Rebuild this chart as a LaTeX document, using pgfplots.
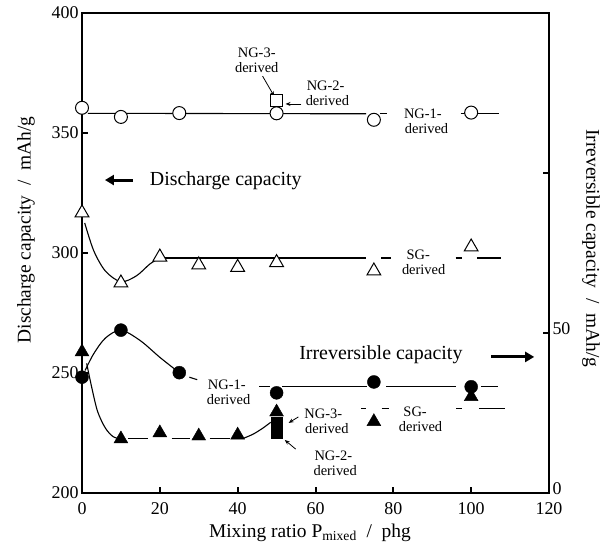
\documentclass[border=0pt]{standalone}
\usepackage{fontspec}
\setmainfont{Liberation Serif}
\usepackage{pgfplots}
\pgfplotsset{compat=1.18}
\usetikzlibrary{arrows.meta}

\pgfplotsset{
  base/.style={
    at={(0,0)}, anchor=south west,
    scale only axis, width=467bp, height=480bp,
    xmin=0, xmax=120, clip=false,
    tick align=inside, major tick length=6bp,
    every tick/.style={line width=2bp, black},
    tick label style={font=\fontsize{18}{21}\selectfont},
    label style={font=\fontsize{19.5}{23}\selectfont},
    /pgf/number format/assume math mode=true,
  },
  ln/.style={black, line width=1.1bp, no marks},
  opencirc/.style={only marks, mark=*, mark size=6.5bp, mark options={fill=white, draw=black, line width=1bp}},
  opentri/.style={only marks, mark=triangle*, mark size=8bp, mark options={fill=white, draw=black, line width=1bp}},
  opensq/.style={only marks, mark=square*, mark size=6bp, mark options={fill=white, draw=black, line width=1bp}},
  fillcirc/.style={only marks, mark=*, mark size=6.5bp, mark options={fill=black, draw=black}},
  filltri/.style={only marks, mark=triangle*, mark size=8bp, mark options={fill=black, draw=black}},
  fillsq/.style={only marks, mark=square*, mark size=5.5bp, mark options={fill=black, draw=black}},
}

\begin{document}
\begin{tikzpicture}
\path[use as bounding box] (-82bp,-56bp) rectangle (524bp,493bp);
% ---------------- left axis: discharge capacity ----------------
\begin{axis}[base,
  ymin=200, ymax=400,
  xtick={0,20,...,120}, ytick={200,250,...,400},
  xtick pos=left, ytick pos=left,
  xticklabel style={yshift=-6bp},
  axis line style={line width=2.6bp},
  xlabel={Mixing ratio P\textsubscript{mixed}\ \ /\ \ phg},
  ylabel={Discharge capacity\ \ /\ \ mAh/g},
  xlabel style={at={(axis description cs:0.488,-0.083)}, anchor=center},
  ylabel style={at={(axis description cs:-0.12,0.548)}, anchor=center},
]
% NG-1-derived (open circles) line
\addplot[ln] coordinates {(1.5,358.2) (73,358)};
\addplot[ln] coordinates {(76.5,358) (78.5,358)};
\addplot[ln] coordinates {(97.3,358) (98.5,358)};
\addplot[ln] coordinates {(101.5,358) (107.2,358)};
% SG-derived (open triangles) line
\addplot[ln, smooth] coordinates {(0.7,312.5) (3,301) (6,292.5) (10,288) (14,290.5) (17.5,295.5) (20,297.9)};
\addplot[ln] coordinates {(20,297.9) (73,297.9)};
\addplot[ln] coordinates {(76.9,297.9) (79.3,297.9)};
\addplot[ln] coordinates {(96,297.9) (97.6,297.9)};
\addplot[ln] coordinates {(101.5,297.9) (107.7,297.9)};
% markers
\addplot[opencirc] coordinates {(0,360.5) (10,356.7) (25,358.3) (50,358.2) (75,355.5) (100,358.5)};
\addplot[opentri] coordinates {(0,316.7) (10,287.5) (20,298.3) (30,295) (40,294) (50,296) (75,292.5) (100,302.5)};
\addplot[opensq] coordinates {(50,363.7)};

% annotations
\begin{scope}[every node/.style={font=\fontsize{14.5}{16}\selectfont, align=center, inner sep=0pt}]
\node at (axis cs:44.9,380.2) {NG-3-\\[-1pt]derived};
\node at (axis cs:62.6,366.5) {NG-2-\\[-1pt]\ derived};
\node at (axis cs:87.6,354.8) {NG-1-\\[-1pt]\ \ derived};
\node at (axis cs:86.4,296.2) {SG-\\[-1pt]\ \ \ derived};
\node at (axis cs:37.2,242.1) {NG-1-\\[-1pt]\ derived};
\node at (axis cs:62.0,230.0) {NG-3-\\[-1pt]\ \ derived};
\node at (axis cs:85.6,230.8) {SG-\\[-1pt]\ \ \ derived};
\node at (axis cs:64.6,212.5) {NG-2-\\[-1pt]\ derived};
\end{scope}
\draw[-{Stealth[length=5bp,width=4bp]}, line width=0.8bp] (axis cs:46.4,373.7) -- (axis cs:49.4,365.3);
\draw[-{Stealth[length=5bp,width=4bp]}, line width=0.8bp] (axis cs:56.4,362.1) -- (axis cs:52.3,362.1);
\draw[-{Stealth[length=5bp,width=4bp]}, line width=0.8bp] (axis cs:55.6,231.7) -- (axis cs:53.1,229.2);
\draw[-{Stealth[length=5bp,width=4bp]}, line width=0.8bp] (axis cs:54.9,218.3) -- (axis cs:52.1,222.1);

\node[font=\fontsize{20}{24}\selectfont, anchor=west, inner sep=0pt] at (axis cs:17.4,330) {Discharge capacity};
\draw[-{Triangle[length=9bp,width=10bp]}, line width=3bp] (axis cs:13.1,330.4) -- (axis cs:5.9,330.4);
\node[font=\fontsize{20}{24}\selectfont, inner sep=0pt] at (axis cs:76.8,257.5) {Irreversible capacity};
\draw[-{Triangle[length=9bp,width=10bp]}, line width=3bp] (axis cs:105.1,256.7) -- (axis cs:116.2,256.7);
\end{axis}

% ---------------- right axis: irreversible capacity ----------------
\begin{axis}[base,
  ymin=0, ymax=150,
  axis x line=none, axis y line*=right,
  axis line style={line width=2.6bp},
  ytick={0,50,100}, yticklabels={0,50,{}},
  yticklabel style={yshift=4bp},
  ylabel={Irreversible capacity\ \ /\ \ mAh/g},
  ylabel style={at={(axis description cs:1.09,0.51)}, anchor=center, rotate=180},
]
% NG-1-derived (filled circles) line
\addplot[ln, smooth] coordinates {(0.8,38.3) (3,43.5) (6,48.4) (10,50.9) (15,47.6) (20,42.4) (25,37.6)};
\addplot[ln] coordinates {(27.6,36.2) (29.6,35.4)};
\addplot[ln] coordinates {(45.6,33.2) (48.2,33.2)};
\addplot[ln] coordinates {(51.5,33.2) (73.3,33.2)};
\addplot[ln] coordinates {(78.2,33.2) (96.2,33.2)};
\addplot[ln] coordinates {(102.5,33.2) (107,33.2)};
% SG-derived (filled triangles) line
\addplot[ln, smooth] coordinates {(1.2,40.5) (2.5,33) (4,25.5) (6,20.3) (8,17.6) (10,16.9)};
\addplot[ln] coordinates {(11.8,16.9) (17,16.9)};
\addplot[ln] coordinates {(23,16.9) (27.7,16.9)};
\addplot[ln] coordinates {(32.8,16.9) (38,16.9)};
\addplot[ln, smooth] coordinates {(41.5,17.1) (44,18.4) (46.5,20.3) (48.5,22.1)};
\addplot[ln] coordinates {(71.8,26.5) (73,26.5)};
\addplot[ln] coordinates {(77,26.5) (79,26.5)};
\addplot[ln] coordinates {(96.2,26.5) (97.7,26.5)};
\addplot[ln] coordinates {(102,26.5) (108.7,26.5)};
% markers
\addplot[fillcirc] coordinates {(0,36.2) (10,50.9) (25,37.6) (50,31.3) (75,34.7) (100,33.2)};
\addplot[filltri] coordinates {(0,44.1) (10,16.9) (20,18.8) (30,17.8) (40,18.1) (50,25.3) (75,22.3) (100,30.1)};
\addplot[fillsq] coordinates {(50,21.9) (50,18.75)};
\end{axis}
\end{tikzpicture}
\end{document}
